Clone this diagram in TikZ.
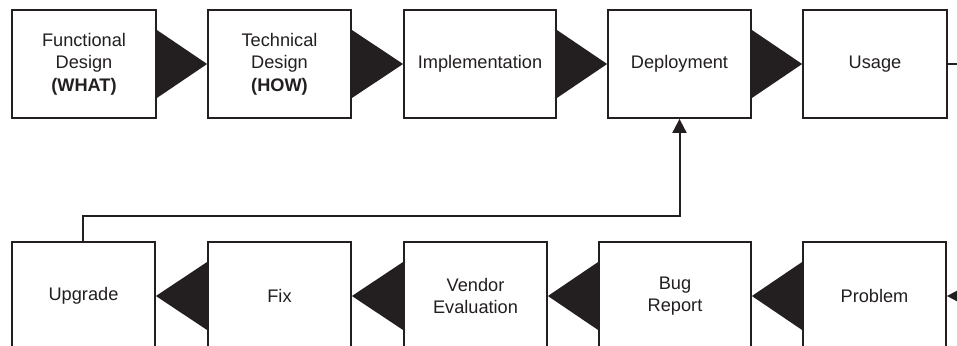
\documentclass[tikz,border=0pt]{standalone}
\usepackage{fontspec}
\setmainfont{Liberation Sans}
\usetikzlibrary{arrows.meta}
\definecolor{ink}{HTML}{231F20}
\tikzset{
  stagebox/.style={draw=ink, line width=1.8pt, fill=white, minimum height=108pt,
    inner sep=0pt, align=center, text=ink,
    font=\fontsize{18.2}{22.5}\selectfont},
  wedge/.style={fill=ink, draw=none},
  feedline/.style={draw=ink, line width=2pt},
}
\begin{document}
\begin{tikzpicture}[x=1pt, y=1pt]
  \useasboundingbox (0,0) rectangle (957,-345);
  \clip (0,0) rectangle (957,-345);
  \fill[white] (0,0) rectangle (957,-345);

  % upper row
  \node[stagebox, minimum width=144pt] (func) at (84,-64) {Functional\\Design\\\textbf{(WHAT)}};
  \node[stagebox, minimum width=143pt] (tech) at (279.5,-64) {Technical\\Design\\\textbf{(HOW)}};
  \node[stagebox, minimum width=152pt] (impl) at (480,-64) {Implementation};
  \node[stagebox, minimum width=143pt] (depl) at (679.5,-64) {Deployment};
  \node[stagebox, minimum width=144pt] (usage) at (875,-64) {Usage};

  % lower row
  \node[stagebox, minimum width=143pt] (upgr) at (83.5,-296) {Upgrade};
  \node[stagebox, minimum width=143pt] (fix) at (279.5,-296) {Fix};
  \node[stagebox, minimum width=143pt] (vend) at (475.5,-296) {Vendor\\Evaluation};
  \node[stagebox, minimum width=152pt] (bug) at (675,-296) {Bug\\Report};
  \node[stagebox, minimum width=143pt] (prob) at (874.5,-296) {Problem};

  % wedges pointing right along the upper row
  \foreach \a/\b in {func/tech, tech/impl, impl/depl, depl/usage}
    \fill[wedge] ([yshift=34pt]\a.east) -- (\b.west) -- ([yshift=-34pt]\a.east) -- cycle;

  % wedges pointing left along the lower row
  \foreach \a/\b in {prob/bug, bug/vend, vend/fix, fix/upgr}
    \fill[wedge] ([yshift=34pt]\a.west) -- (\b.east) -- ([yshift=-34pt]\a.west) -- cycle;

  % feedback from upgrade back to deployment
  \coordinate (bend) at (83,-216);
  \draw[feedline, -{Triangle[length=14pt,width=14pt]}]
    (upgr.north -| bend) -- (bend) -| (depl.south);

  % loop leaving usage and returning into problem
  \coordinate (outR) at (975,-64);
  \coordinate (inR) at (975,-296);
  \draw[feedline] (usage.east) -- (outR);
  \draw[feedline, -{Triangle[length=11pt,width=11pt]}] (inR) -- (prob.east);
\end{tikzpicture}
\end{document}
